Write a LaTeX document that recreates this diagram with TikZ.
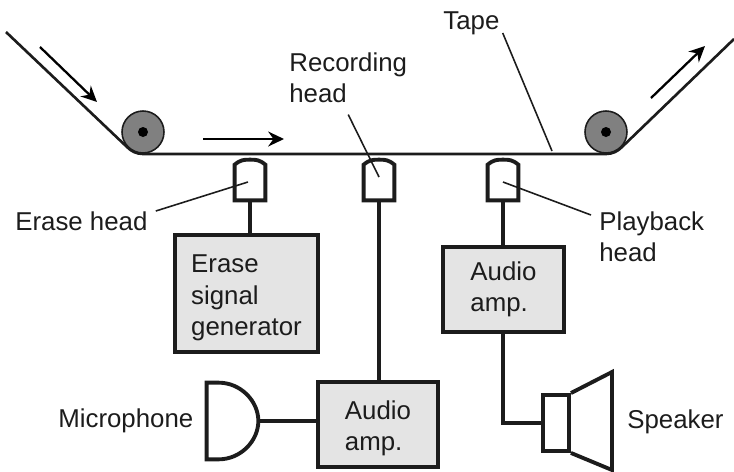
\documentclass[tikz,border=0pt]{standalone}
\usepackage{fontspec}
\setmainfont{Liberation Sans}
\usepackage{xcolor}
\usetikzlibrary{
    positioning,
    arrows.meta,
    calc
}
\definecolor{boxgrey}{HTML}{E4E4E4}
\definecolor{rollgrey}{HTML}{808080}
\definecolor{inkblack}{HTML}{1C1C1C}

\begin{document}
\begin{tikzpicture}[x=0.02cm, y=-0.02cm,
  font=\fontsize{14.7}{17.9}\selectfont, text=inkblack,
  blockbox/.style={draw=inkblack, line width=2.2pt, fill=boxgrey, align=left, inner sep=0pt},
  roller/.style={circle, draw=inkblack, line width=0.9pt, fill=rollgrey, minimum size=0.84cm, inner sep=0pt},
  hub/.style={circle, fill=black, minimum size=0.2cm, inner sep=0pt},
  headbox/.style={minimum width=0.6cm, minimum height=0.8cm, inner sep=0pt},
  label/.style={align=left, inner sep=0pt},
  tapeline/.style={line width=1.5pt, draw=inkblack},
  wire/.style={line width=1.8pt, draw=inkblack},
  outline/.style={line width=2.2pt, draw=inkblack, line join=miter},
  leader/.style={line width=0.9pt, draw=inkblack},
  motion/.style={-{Stealth[length=9pt, width=8.5pt, inset=3pt]}, line width=1.3pt, draw=black}]

  \useasboundingbox (0,0) rectangle (734,471);

  % Rollers and tape
  \node[roller] (RL) at (143,132) {};
  \node[roller] (RR) at (606,132) {};
  \node[hub] at (RL) {};
  \node[hub] at (RR) {};
  \coordinate (TL) at (6,32);
  \coordinate (TR) at (734,39);
  \draw[tapeline] (TL) -- (127,147) .. controls (131,151) and (136,154) .. (143,154)
    -- (606,154) .. controls (613,154) and (618,151) .. (622,147) -- (TR);

  % Direction arrows
  \coordinate (A1) at (40,47);
  \coordinate (B1) at (97,102);
  \coordinate (A2) at (203,139);
  \coordinate (B2) at (284,139);
  \coordinate (A3) at (651,98);
  \coordinate (B3) at (705,46);
  \draw[motion] (A1) -- (B1);
  \draw[motion] (A2) -- (B2);
  \draw[motion] (A3) -- (B3);

  % Heads
  \foreach \hd/\hx in {EH/250, RH/379, PH/503} {
    \node[headbox] (\hd) at (\hx,180) {};
    \draw[outline] (\hd.south west) -- ([shift={(0,5)}]\hd.north west)
      .. controls ([shift={(6,0)}]\hd.north west) and ([shift={(-6,0)}]\hd.north) .. (\hd.north)
      .. controls ([shift={(6,0)}]\hd.north) and ([shift={(-6,0)}]\hd.north east) .. ([shift={(0,5)}]\hd.north east)
      -- (\hd.south east) -- cycle;
  }

  % Blocks
  \node[blockbox, minimum width=2.86cm, minimum height=2.34cm] (EG) at (246.5,293.5)
    {\rule{0pt}{15.2pt}Erase\\signal\\generator};
  \node[blockbox, minimum width=2.42cm, minimum height=1.7cm] (AP) at (503.5,289.5)
    {Audio\\amp.};
  \node[blockbox, minimum width=2.4cm, minimum height=1.7cm] (AR) at (378,424.5)
    {\rule{0pt}{14.7pt}Audio\\amp.};

  % Microphone
  \node[minimum width=1.02cm, minimum height=1.52cm, inner sep=0pt] (MC) at (232.5,421) {};
  \draw[outline] (MC.north west) -- ([shift={(12,0)}]MC.north west)
    .. controls ([shift={(34,0)}]MC.north west) and ([shift={(0,-20)}]MC.east) .. (MC.east)
    .. controls ([shift={(0,20)}]MC.east) and ([shift={(34,0)}]MC.south west) .. ([shift={(12,0)}]MC.south west)
    -- (MC.south west) -- cycle;

  % Speaker
  \node[draw=inkblack, line width=2.2pt, minimum width=0.52cm, minimum height=1.12cm, inner sep=0pt] (SP) at (556,423) {};
  \coordinate (CT) at (612,372);
  \coordinate (CB) at (612,470);
  \draw[outline] (SP.north east) -- (CT) -- (CB) -- (SP.south east);

  % Signal wires
  \draw[wire] (EH.south) -- (EH.south |- EG.north);
  \draw[wire] (RH.south) -- (RH.south |- AR.north);
  \draw[wire] (PH.south) -- (PH.south |- AP.north);
  \draw[wire] (MC.east) -- (MC.east -| AR.west);
  \draw[wire] (PH.south |- AP.south) |- (SP.west);

  % Labels
  \node[label, anchor=west] (TP) at (443,23) {Tape};
  \node[label, anchor=west] (RC) at (289,78) {Recording\\head};
  \node[label, anchor=west] (EL) at (15,221) {Erase head};
  \node[label, anchor=west] (PB) at (599,237) {Playback\\head};
  \node[label, anchor=west] at (58,421) {Microphone};
  \node[label, anchor=west] at (627,422) {Speaker};

  % Leader lines
  \coordinate (TT) at (552,151);
  \draw[leader] ([shift={(3,10)}]TP.east) -- (TT);
  \draw[leader] ([shift={(0,11)}]RC.south) -- ([shift={(0,-3)}]RH.center);
  \draw[leader] ([shift={(8,-10)}]EL.east) -- ([shift={(-2,2)}]EH.center);
  \draw[leader] ([shift={(0,2)}]PH.center) -- ([shift={(-8,-22)}]PB.west);
\end{tikzpicture}
\end{document}
